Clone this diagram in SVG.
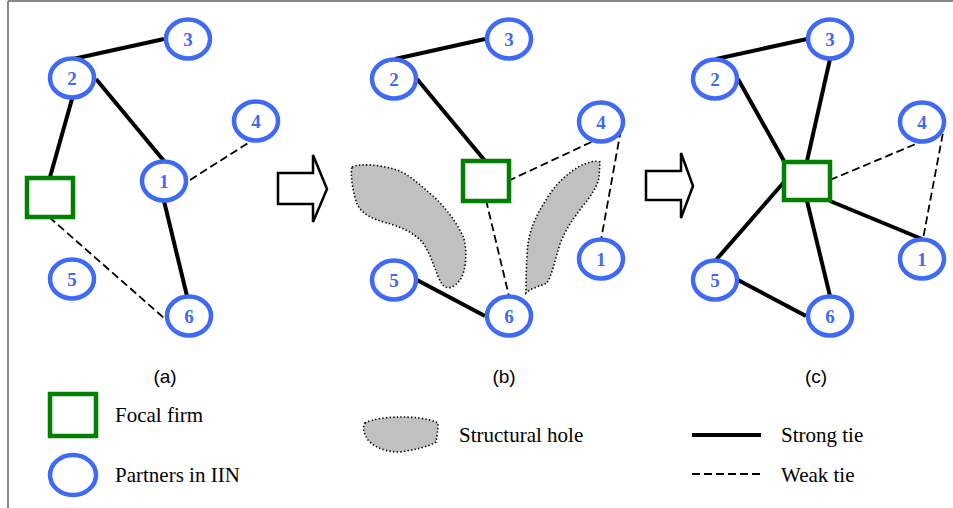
<svg xmlns="http://www.w3.org/2000/svg" width="953" height="508" viewBox="0 0 953 508">
  <style>
    .partner { fill: #ffffff; stroke: #3f6af5; stroke-width: 4.5; }
    .num { font-family: "Liberation Serif", "Times New Roman", serif; font-weight: bold; font-size: 19px; fill: #3f6af5; text-anchor: middle; }
    .focal { fill: #ffffff; stroke: #008000; stroke-width: 4.5; }
    .strong { stroke: #000000; stroke-width: 4; fill: none; }
    .weak { stroke: #000000; stroke-width: 1.8; stroke-dasharray: 8 4; fill: none; }
    .hole { fill: #c0c0c0; stroke: #000000; stroke-width: 1.6; stroke-dasharray: 1.4 2.2; }
    .step { fill: #ffffff; stroke: #000000; stroke-width: 2.5; stroke-linejoin: miter; }
    .cap { font-family: "Liberation Sans", Arial, sans-serif; font-size: 19px; fill: #000000; text-anchor: middle; }
    .legend { font-family: "Liberation Serif", "Times New Roman", serif; font-size: 21px; fill: #000000; }
    .frame { stroke: #888888; stroke-width: 2; fill: none; }
  </style>

  <rect width="953" height="508" fill="#ffffff"/>
  <!-- frame -->
  <line class="frame" x1="8" y1="1" x2="953" y2="1"/>
  <line class="frame" x1="8" y1="1" x2="8" y2="508"/>

  <!-- structural holes -->
  <g id="holes">
    <path class="hole" d="M352,167 C360,163 382,165 397,170 C410,175 420,185 433,196 C445,207 455,220 463,236 C468,250 466,272 460,280 C455,287 447,291 442,284 C436,275 433,258 423,243 C414,232 398,226 387,223 C372,219 362,214 357,204 C353,193 350,175 352,167 Z"/>
    <path class="hole" d="M600,162 C596,160 588,162 580,166 C566,174 554,186 546,200 C535,217 528,232 527,255 C526,272 526,285 526,293 C531,288 541,286 547,283 C552,275 555,260 560,244 C566,228 574,218 582,207 C592,195 597,186 599,178 Z"/>
  </g>

  <!-- step arrows -->
  <g id="arrows">
    <polygon class="step" points="278,173 313,173 313,155 327,189 313,222 313,204 278,204"/>
    <polygon class="step" points="646,171 681,171 681,153 693,186 681,218 681,200 646,200"/>
  </g>

  <!-- ties -->
  <g id="connectors">
    <!-- (a) -->
    <line class="strong" x1="73" y1="59" x2="164" y2="39"/>
    <line class="strong" x1="96" y1="79" x2="164" y2="161"/>
    <line class="strong" x1="72" y1="99" x2="50" y2="177"/>
    <line class="strong" x1="164" y1="201" x2="187" y2="296"/>
    <line class="weak" x1="190" y1="180" x2="256" y2="138"/>
    <line class="weak" x1="49" y1="217" x2="164" y2="318"/>
    <!-- (b) -->
    <line class="strong" x1="395" y1="59" x2="485" y2="39"/>
    <line class="strong" x1="417" y1="79" x2="486" y2="162"/>
    <line class="strong" x1="417" y1="280" x2="485" y2="316"/>
    <line class="weak" x1="508" y1="181" x2="600" y2="138"/>
    <line class="weak" x1="623" y1="118" x2="601" y2="240"/>
    <line class="weak" x1="486" y1="200" x2="509" y2="296"/>
    <!-- (c) -->
    <line class="strong" x1="716" y1="59" x2="807" y2="39"/>
    <line class="strong" x1="738" y1="79" x2="784" y2="161"/>
    <line class="strong" x1="830" y1="59" x2="807" y2="161"/>
    <line class="strong" x1="830" y1="201" x2="922" y2="239"/>
    <line class="strong" x1="784" y1="182" x2="716" y2="260"/>
    <line class="strong" x1="807" y1="201" x2="830" y2="296"/>
    <line class="strong" x1="738" y1="280" x2="806" y2="316"/>
    <line class="weak" x1="830" y1="180" x2="923" y2="141"/>
    <line class="weak" x1="945" y1="122" x2="923" y2="239"/>
  </g>

  <!-- panel (a) nodes -->
  <g id="a-focal"><rect class="focal" x="27" y="178" width="46" height="39"/></g>
  <g id="a-n1"><ellipse class="partner" cx="164" cy="181" rx="22" ry="19.5"/><text class="num" x="164" y="187.5">1</text></g>
  <g id="a-n2"><ellipse class="partner" cx="72" cy="78" rx="22" ry="19.5"/><text class="num" x="72" y="84.5">2</text></g>
  <g id="a-n3"><ellipse class="partner" cx="188" cy="39" rx="22" ry="19.5"/><text class="num" x="188" y="45.5">3</text></g>
  <g id="a-n4"><ellipse class="partner" cx="256" cy="121" rx="22" ry="19.5"/><text class="num" x="256" y="127.5">4</text></g>
  <g id="a-n5"><ellipse class="partner" cx="72" cy="279" rx="22" ry="19.5"/><text class="num" x="72" y="285.5">5</text></g>
  <g id="a-n6"><ellipse class="partner" cx="189" cy="316" rx="22" ry="19.5"/><text class="num" x="189" y="322.5">6</text></g>

  <!-- panel (b) nodes -->
  <g id="b-focal"><rect class="focal" x="463" y="161" width="46" height="40"/></g>
  <g id="b-n1"><ellipse class="partner" cx="601" cy="259" rx="22" ry="19.5"/><text class="num" x="601" y="265.5">1</text></g>
  <g id="b-n2"><ellipse class="partner" cx="394" cy="79" rx="22" ry="19.5"/><text class="num" x="394" y="85.5">2</text></g>
  <g id="b-n3"><ellipse class="partner" cx="509" cy="39" rx="22" ry="19.5"/><text class="num" x="509" y="45.5">3</text></g>
  <g id="b-n4"><ellipse class="partner" cx="601" cy="122" rx="22" ry="19.5"/><text class="num" x="601" y="128.5">4</text></g>
  <g id="b-n5"><ellipse class="partner" cx="394" cy="280" rx="22" ry="19.5"/><text class="num" x="394" y="286.5">5</text></g>
  <g id="b-n6"><ellipse class="partner" cx="509" cy="316" rx="22" ry="19.5"/><text class="num" x="509" y="322.5">6</text></g>

  <!-- panel (c) nodes -->
  <g id="c-focal"><rect class="focal" x="784" y="162" width="46" height="38"/></g>
  <g id="c-n1"><ellipse class="partner" cx="922" cy="259" rx="22" ry="19.5"/><text class="num" x="922" y="265.5">1</text></g>
  <g id="c-n2"><ellipse class="partner" cx="715" cy="79" rx="22" ry="19.5"/><text class="num" x="715" y="85.5">2</text></g>
  <g id="c-n3"><ellipse class="partner" cx="830" cy="39" rx="22" ry="19.5"/><text class="num" x="830" y="45.5">3</text></g>
  <g id="c-n4"><ellipse class="partner" cx="922" cy="122" rx="22" ry="19.5"/><text class="num" x="922" y="128.5">4</text></g>
  <g id="c-n5"><ellipse class="partner" cx="715" cy="280" rx="22" ry="19.5"/><text class="num" x="715" y="286.5">5</text></g>
  <g id="c-n6"><ellipse class="partner" cx="830" cy="316" rx="22" ry="19.5"/><text class="num" x="830" y="322.5">6</text></g>

  <!-- panel captions -->
  <g id="captions">
    <text class="cap" x="165" y="383">(a)</text>
    <text class="cap" x="504" y="383">(b)</text>
    <text class="cap" x="816" y="383">(c)</text>
  </g>

  <!-- legend -->
  <g id="legend">
    <rect class="focal" x="50" y="394" width="46" height="42"/>
    <text class="legend" x="115" y="422">Focal firm</text>
    <ellipse class="partner" cx="73" cy="475" rx="23" ry="20"/>
    <text class="legend" x="115" y="482">Partners in IIN</text>
    <path class="hole" d="M365,423 C372,419 388,417 400,417 C413,417 428,418 438,423 C438,430 437,436 436,442 C428,447 414,450 400,452 C388,452 376,449 368,440 C364,434 362,428 365,423 Z"/>
    <text class="legend" x="459" y="442">Structural hole</text>
    <line class="strong" x1="692" y1="435" x2="761" y2="435"/>
    <text class="legend" x="781" y="442">Strong tie</text>
    <line class="weak" x1="692" y1="474" x2="761" y2="474"/>
    <text class="legend" x="781" y="482">Weak tie</text>
  </g>
</svg>
